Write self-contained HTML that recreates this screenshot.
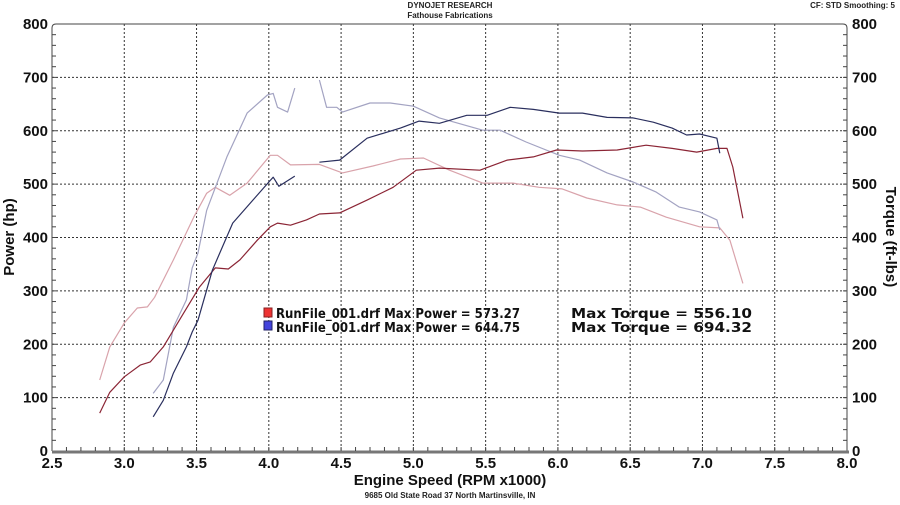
<!DOCTYPE html>
<html><head><meta charset="utf-8"><style>
body{margin:0;background:#fff;width:900px;height:500px;overflow:hidden}
svg text{font-family:"Liberation Sans","DejaVu Sans",sans-serif}
svg text.lg{font-family:"DejaVu Sans","Liberation Sans",sans-serif}
</style></head><body>
<svg id="chart" width="900" height="500" xmlns="http://www.w3.org/2000/svg">
<g id="grid"></g>
<g id="axes"></g>
<g id="series"></g>
<text x="450" y="8" font-size="8" text-anchor="middle" font-weight="bold" fill="#222">DYNOJET RESEARCH</text>
<text x="450" y="18" font-size="8" text-anchor="middle" font-weight="bold" fill="#222">Fathouse Fabrications</text>
<text x="895" y="8" font-size="8" text-anchor="end" font-weight="bold" fill="#222">CF: STD  Smoothing: 5</text>
<text x="450" y="485" font-size="15" text-anchor="middle" font-weight="bold" fill="#111">Engine Speed (RPM x1000)</text>
<text x="450" y="498" font-size="8" text-anchor="middle" font-weight="bold" fill="#222">9685 Old State Road 37 North Martinsville, IN</text>
<text transform="translate(14,237) rotate(-90)" font-size="15" text-anchor="middle" font-weight="bold" fill="#111">Power (hp)</text>
<text transform="translate(886,237) rotate(90)" font-size="15" text-anchor="middle" font-weight="bold" fill="#111">Torque (ft-lbs)</text>
<g>
<rect x="264" y="308" width="8" height="9" fill="#e33" stroke="#822"/>
<rect x="264" y="321" width="8" height="9" fill="#44d" stroke="#226"/>
<text class="lg" x="276" y="318" font-size="13" font-weight="bold" fill="#111" textLength="244" lengthAdjust="spacingAndGlyphs">RunFile_001.drf Max Power = 573.27</text>
<text class="lg" x="571" y="318" font-size="13" font-weight="bold" fill="#111" textLength="181" lengthAdjust="spacingAndGlyphs">Max Torque = 556.10</text>
<text class="lg" x="276" y="332" font-size="13" font-weight="bold" fill="#111" textLength="244" lengthAdjust="spacingAndGlyphs">RunFile_001.drf Max Power = 644.75</text>
<text class="lg" x="571" y="332" font-size="13" font-weight="bold" fill="#111" textLength="181" lengthAdjust="spacingAndGlyphs">Max Torque = 694.32</text>
</g>
</svg>
<script>
const xTicks=[2.5,3.0,3.5,4.0,4.5,5.0,5.5,6.0,6.5,7.0,7.5,8.0];
const yTicks=[0,100,200,300,400,500,600,700,800];
const run1Rpm=[2.83,2.9,3.0,3.11,3.18,3.27,3.41,3.52,3.63,3.72,3.8,3.92,4.01,4.06,4.15,4.26,4.35,4.49,4.68,4.86,5.02,5.18,5.46,5.65,5.83,5.99,6.17,6.41,6.61,6.79,6.96,7.1,7.17,7.21,7.28];
const run1Power=[71,110,139,161,167,195,258,307,343,341,358,395,420,427,423,433,444,446,470,494,526,530,526,545,551,564,562,564,573,567,560,567,567,532,436];
const run1TqRpm=[2.83,2.9,3.0,3.09,3.16,3.21,3.34,3.48,3.57,3.63,3.73,3.85,4.01,4.06,4.15,4.35,4.51,4.72,4.91,5.07,5.25,5.48,5.69,5.87,6.03,6.2,6.41,6.57,6.75,6.98,7.12,7.19,7.28];
const run1Torque=[133,195,240,268,270,288,358,438,483,494,479,502,554,554,536,537,521,534,547,549,526,502,502,494,491,474,461,457,438,420,418,395,314];
const run2Rpm=[3.2,3.27,3.34,3.43,3.47,3.51,3.61,3.75,3.89,4.01,4.03,4.07,4.18,null,4.35,4.49,4.68,4.91,5.04,5.18,5.37,5.51,5.67,5.83,6.01,6.17,6.34,6.52,6.66,6.79,6.89,6.98,7.1,7.12];
const run2Power=[64,95,146,195,223,245,339,427,470,507,513,496,515,null,541,545,586,605,618,614,629,629,644,640,633,633,625,624,616,605,592,594,586,558];
const run2TqRpm=[3.2,3.27,3.34,3.43,3.47,3.51,3.57,3.71,3.85,3.99,4.03,4.06,4.13,4.18,null,4.35,4.4,4.47,4.51,4.7,4.84,5.0,5.18,5.48,5.6,5.78,6.01,6.15,6.34,6.52,6.68,6.84,6.98,7.1,7.12];
const run2Torque=[108,133,232,283,343,371,451,551,633,667,670,644,635,680,null,695,644,644,635,652,652,646,624,601,601,579,554,545,521,504,485,457,448,433,414];

const X0=52,X1=847,Y0=451,Y1=24;
const sx=v=>X0+(v-2.5)/5.5*(X1-X0);
const sy=v=>Y0-v/800*(Y0-Y1);
const NS="http://www.w3.org/2000/svg";
function mk(tag,attrs,parent){const e=document.createElementNS(NS,tag);for(const k in attrs)e.setAttribute(k,attrs[k]);parent.appendChild(e);return e;}
const grid=document.getElementById('grid'),axes=document.getElementById('axes'),ser=document.getElementById('series');
xTicks.forEach(t=>{
  if(t>2.5&&t<8){const l=mk('line',{x1:sx(t),x2:sx(t),y1:Y1,y2:Y0,stroke:'#333','stroke-width':1,'stroke-dasharray':'2,2'},grid);
  
  }
  const tx=mk('text',{x:sx(t),y:468,'font-size':15,'font-weight':'bold','text-anchor':'middle',fill:'#111'},axes);
  tx.textContent=t.toFixed(1);
  
  
});
yTicks.forEach(t=>{
  if(t>0&&t<800){const l=mk('line',{x1:X0,x2:X1,y1:sy(t),y2:sy(t),stroke:'#333','stroke-width':1,'stroke-dasharray':'2,2'},grid);
  
  }
  const a=mk('text',{x:48,y:sy(t)+5,'font-size':15,'font-weight':'bold','text-anchor':'end',fill:'#111'},axes);
  a.textContent=t;
  
  
  const b=mk('text',{x:852,y:sy(t)+5,'font-size':15,'font-weight':'bold','text-anchor':'start',fill:'#111'},axes);
  b.textContent=t;
  
  
});
const fr=mk('path',{d:`M${X0},${Y0} L${X0},${Y1+4} Q${X0},${Y1} ${X0+4},${Y1} L${X1-4},${Y1} Q${X1},${Y1} ${X1},${Y1+4} L${X1},${Y0}`,fill:'none',stroke:'#444','stroke-width':1},axes);


const bt=mk('line',{x1:X0,x2:X1+2,y1:Y0+1,y2:Y0+1,stroke:'#777','stroke-width':3},axes);


for(let i=1;i<55;i++){const x=sx(2.5+i*0.1);const m=mk('line',{x1:x,x2:x,y1:Y0-4,y2:Y0,stroke:'#444'},axes);

}
for(let i=1;i<40;i++){const y=sy(i*20);
const m=mk('line',{x1:X0,x2:X0+4,y1:y,y2:y,stroke:'#444'},axes);


const n=mk('line',{x1:X1-4,x2:X1,y1:y,y2:y,stroke:'#444'},axes);

}
function draw(xs,ys,color,name){
  let d='',pen=false;
  xs.forEach((x,i)=>{const y=ys[i];if(x==null||y==null){pen=false;return;}d+=(pen?'L':'M')+sx(x).toFixed(1)+','+sy(y).toFixed(1)+' ';pen=true;});
  const p=mk('path',{d,fill:'none',stroke:color,'stroke-width':1.2,'stroke-linejoin':'round'},ser);
  
  
}
draw(run1TqRpm,run1Torque,'#d9a3ab','run1-torque-line');
draw(run2TqRpm,run2Torque,'#a3a3c2','run2-torque-line');
draw(run1Rpm,run1Power,'#8b2535','run1-power-line');
draw(run2Rpm,run2Power,'#2a2f5e','run2-power-line');
</script>
</body></html>
